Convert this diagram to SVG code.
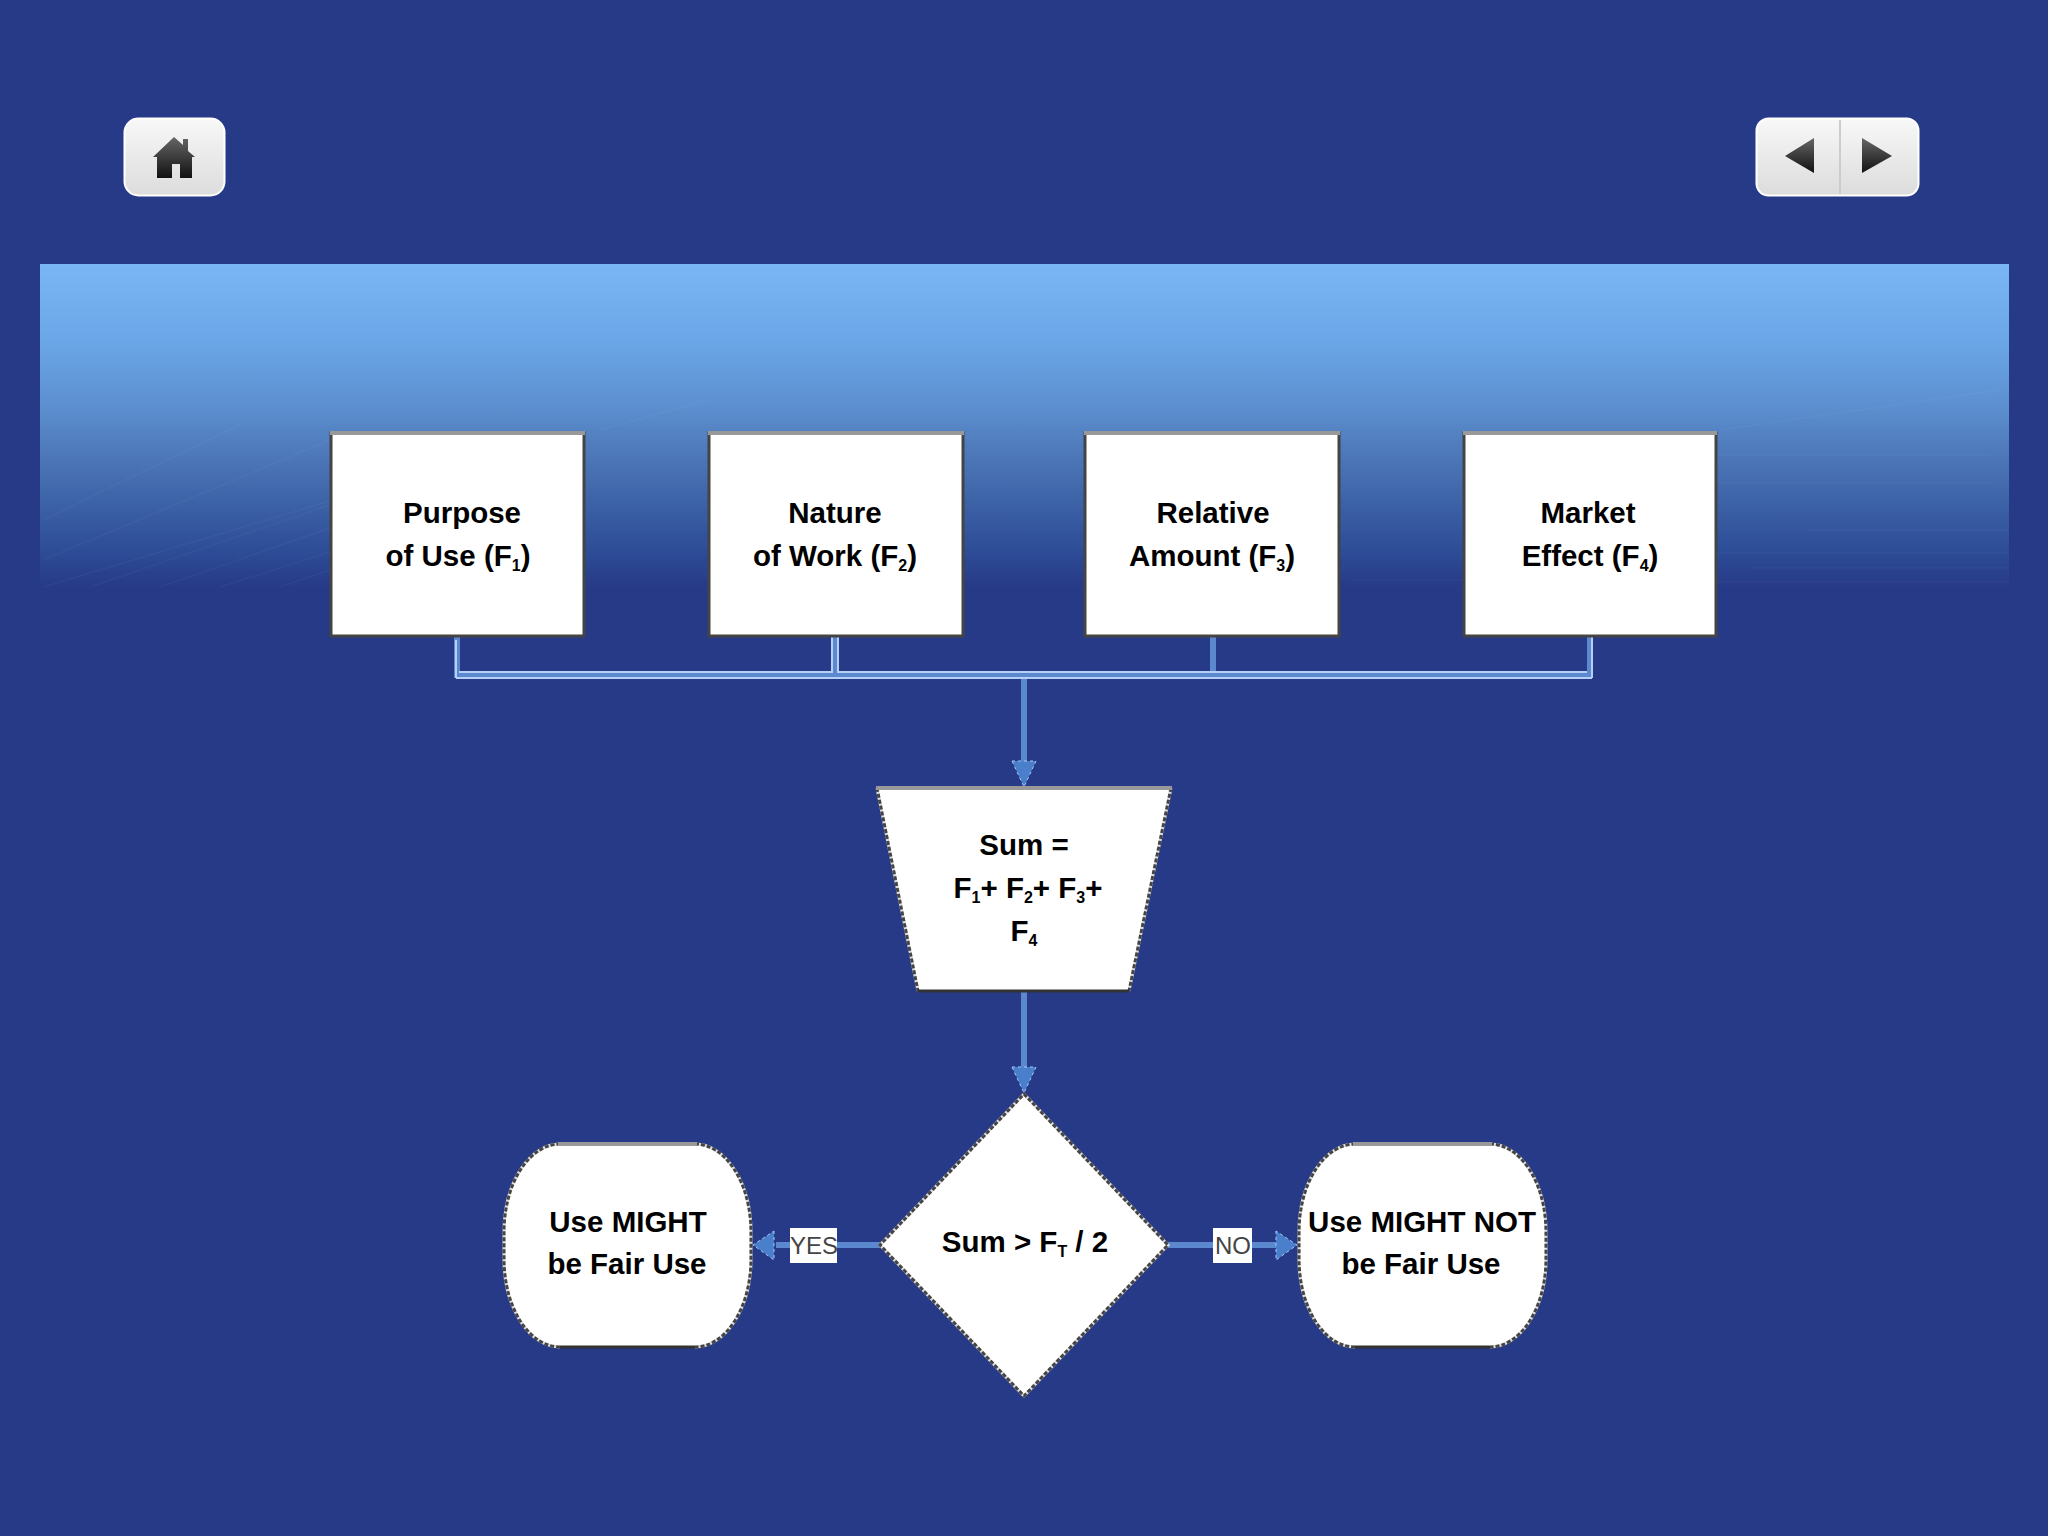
<svg xmlns="http://www.w3.org/2000/svg" width="2048" height="1536" viewBox="0 0 2048 1536">
<style>
.n{fill:#fff;stroke:#444;stroke-width:3}
.e{fill:none;stroke:#ddd;stroke-width:3}
.d{fill:none;stroke:#444;stroke-width:3;stroke-dasharray:4 2}
.tp{stroke:#999;stroke-width:4}
.bt{stroke:#333;stroke-width:3}
.t{font-family:"Liberation Sans",Arial,sans-serif;font-weight:bold;font-size:29.5px;fill:#000;text-anchor:middle}
.s{font-size:16px}
.c{fill:none;stroke:#5b88cf;stroke-width:6}
.b{fill:none;stroke:#b4d0f4;stroke-width:2}
.a{fill:#4a7fcb;stroke:#a8c8ef;stroke-width:1;stroke-dasharray:3 3}
.l{font-family:"Liberation Sans",Arial,sans-serif;font-size:24px;fill:#444;text-anchor:middle}
.w{fill:none;stroke:#fff;stroke-width:1.5;stroke-opacity:.035}
</style>
<defs>
<linearGradient id="band" x1="0" y1="0" x2="0" y2="1">
<stop offset="0" stop-color="#7ab6f5"/><stop offset=".235" stop-color="#6ba7e8"/><stop offset=".44" stop-color="#5c8fcf"/><stop offset=".6" stop-color="#4c76b8"/><stop offset=".75" stop-color="#3b60a5"/><stop offset=".9" stop-color="#2c4a95"/><stop offset="1" stop-color="#273a87"/>
</linearGradient>
<linearGradient id="btn" x1="0" y1="0" x2="0" y2="1"><stop offset="0" stop-color="#f8f8f8"/><stop offset="1" stop-color="#dcdcdc"/></linearGradient>
<linearGradient id="ic" x1="0" y1="0" x2="0" y2="1"><stop offset="0" stop-color="#666"/><stop offset="1" stop-color="#111"/></linearGradient>
</defs>
<rect width="2048" height="1536" fill="#273a87"/>
<rect x="40" y="264" width="1969" height="324" fill="url(#band)"/>
<g id="band-lines">
<path class="w" d="M43 587L333 500M90 587L330 505M160 587L330 528M220 587L330 552M280 587L330 570M43 560L330 440M43 520L250 420M600 430L708 400"/>
<path class="w" d="M1716 582H2009M1750 568H2009M1716 553H2009M1808 530H2009M1716 483H1990M1720 455H1990M1352 580H1463M1720 430L2000 390"/>
</g>
<g id="home-button"><rect x="124.500" y="118.500" width="100" height="77" rx="14" fill="url(#btn)" stroke="#fff" stroke-width="2"/>
<path d="M153 157 L174 137 L183 145 V139 L188 139 V151 L195 157 H192 V178 H180 V164 H172 V178 H157 V157Z" fill="url(#ic)"/></g>
<g id="nav-button"><rect x="1756.500" y="118.500" width="162" height="77" rx="12" fill="url(#btn)" stroke="#fff" stroke-width="2"/>
<line x1="1840" y1="120" x2="1840" y2="194" stroke="#ccc" stroke-width="2"/>
<path d="M1785 156 L1814 138 V173Z" fill="url(#ic)"/><path d="M1862 138 L1892 156 L1862 173Z" fill="url(#ic)"/></g>
<g id="connectors">
<path class="c" d="M457 636V675H1590V636M835 636V675M1213 636V675M1024 675V762M1024 991V1068M880 1245H776M1168 1245H1278"/>
<path class="b" d="M456 678H1592M1592 678V636M456 678V640"/>
<path class="b" d="M459 672H832V636M838 636V672H1587"/>
<path class="a" d="M1012 761H1036L1024 787Z"/><path class="a" d="M1012 1067H1036L1024 1093Z"/>
<path class="a" d="M774 1231V1260L753 1245Z"/><path class="a" d="M1276 1231V1260L1297 1245Z"/>
</g>
<g id="f1"><rect class="n" x="331" y="433" width="253" height="203"/><line class="tp" x1="330" y1="433" x2="585" y2="433"/><text class="t" x="462" y="523">Purpose</text><text class="t" x="458" y="566">of Use (F<tspan class="s" dy="5">1</tspan><tspan dy="-5">)</tspan></text></g>
<g id="f2"><rect class="n" x="709" y="433" width="254" height="203"/><line class="tp" x1="708" y1="433" x2="964" y2="433"/><text class="t" x="835" y="523">Nature</text><text class="t" x="835" y="566">of Work (F<tspan class="s" dy="5">2</tspan><tspan dy="-5">)</tspan></text></g>
<g id="f3"><rect class="n" x="1085" y="433" width="254" height="203"/><line class="tp" x1="1084" y1="433" x2="1340" y2="433"/><text class="t" x="1213" y="523">Relative</text><text class="t" x="1212" y="566">Amount (F<tspan class="s" dy="5">3</tspan><tspan dy="-5">)</tspan></text></g>
<g id="f4"><rect class="n" x="1464" y="433" width="252" height="203"/><line class="tp" x1="1463" y1="433" x2="1717" y2="433"/><text class="t" x="1588" y="523">Market</text><text class="t" x="1590" y="566">Effect (F<tspan class="s" dy="5">4</tspan><tspan dy="-5">)</tspan></text></g>
<g id="sum"><path d="M877 788H1171L1129 991H918Z" fill="#fff"/><path class="e" d="M877 788L918 991M1171 788L1129 991"/><path class="d" d="M877 788L918 991M1171 788L1129 991"/><line class="tp" x1="876" y1="788" x2="1172" y2="788"/><line class="bt" x1="918" y1="991" x2="1129" y2="991"/><text class="t" x="1024" y="855">Sum =</text><text class="t" x="1028" y="898">F<tspan class="s" dy="5">1</tspan><tspan dy="-5">+ F</tspan><tspan class="s" dy="5">2</tspan><tspan dy="-5">+ F</tspan><tspan class="s" dy="5">3</tspan><tspan dy="-5">+</tspan></text><text class="t" x="1024" y="941">F<tspan class="s" dy="5">4</tspan></text></g>
<g id="decision"><path d="M1024 1094L1168 1245L1024 1396L880 1245Z" fill="#fff"/><path class="e" d="M1024 1094L1168 1245L1024 1396L880 1245Z"/><path class="d" d="M1024 1094L1168 1245L1024 1396L880 1245Z"/><text class="t" x="1025" y="1252">Sum &gt; F<tspan class="s" dy="5">T</tspan><tspan dy="-5"> / 2</tspan></text></g>
<g id="fair"><path d="M560 1144H695A56 88 0 0 1 751 1232V1259A56 88 0 0 1 695 1347H560A56 88 0 0 1 504 1259V1232A56 88 0 0 1 560 1144Z" fill="#fff"/><path class="e" d="M695 1144A56 88 0 0 1 751 1232V1259A56 88 0 0 1 695 1347M560 1347A56 88 0 0 1 504 1259V1232A56 88 0 0 1 560 1144"/><path class="d" d="M695 1144A56 88 0 0 1 751 1232V1259A56 88 0 0 1 695 1347M560 1347A56 88 0 0 1 504 1259V1232A56 88 0 0 1 560 1144"/><line class="tp" x1="558" y1="1144" x2="697" y2="1144"/><line class="bt" x1="560" y1="1347" x2="695" y2="1347"/><text class="t" x="628" y="1232">Use MIGHT</text><text class="t" x="627" y="1274">be Fair Use</text></g>
<g id="notfair"><path d="M1355 1144H1490A56 88 0 0 1 1546 1232V1259A56 88 0 0 1 1490 1347H1355A56 88 0 0 1 1299 1259V1232A56 88 0 0 1 1355 1144Z" fill="#fff"/><path class="e" d="M1490 1144A56 88 0 0 1 1546 1232V1259A56 88 0 0 1 1490 1347M1355 1347A56 88 0 0 1 1299 1259V1232A56 88 0 0 1 1355 1144"/><path class="d" d="M1490 1144A56 88 0 0 1 1546 1232V1259A56 88 0 0 1 1490 1347M1355 1347A56 88 0 0 1 1299 1259V1232A56 88 0 0 1 1355 1144"/><line class="tp" x1="1353" y1="1144" x2="1492" y2="1144"/><line class="bt" x1="1355" y1="1347" x2="1490" y2="1347"/><text class="t" x="1422" y="1232">Use MIGHT NOT</text><text class="t" x="1421" y="1274">be Fair Use</text></g>
<g id="yes"><rect x="790" y="1228" width="47" height="35" fill="#fff"/><text class="l" x="814" y="1254">YES</text></g>
<g id="no"><rect x="1213" y="1228" width="39" height="35" fill="#fff"/><text class="l" x="1233" y="1254">NO</text></g>
</svg>
